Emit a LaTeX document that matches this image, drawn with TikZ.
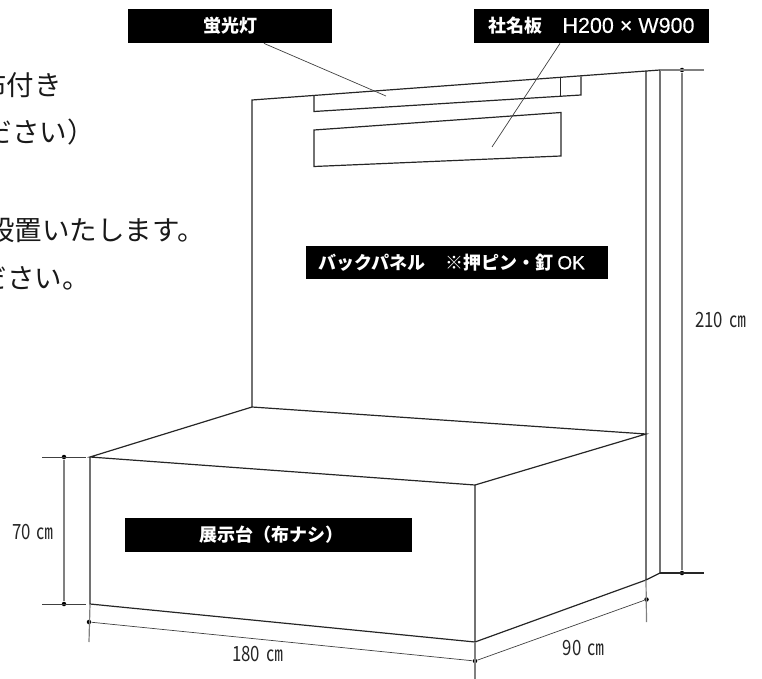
\documentclass[tikz,border=0pt]{standalone}
\usepackage{fontspec}
\setmainfont{Noto Sans CJK JP}
\newfontfamily\taglatin[FakeBold=.3]{Liberation Sans}
\newcommand{\lparen}{\symbol{"FF08}}
\newcommand{\rparen}{\symbol{"FF09}}
\usetikzlibrary{positioning}

\begin{document}
\begin{tikzpicture}[x=1pt, y=-1pt, thick,
  outline/.style = {draw=black!85, line width=1.2pt},
  dimline/.style = {draw=black!50, line width=1.2pt},
  leader/.style = {draw=black!75, line width=.7pt},
  dimdot/.style = {circle, fill=black, inner sep=0pt, minimum size=4.5pt},
  tag/.style = {fill=black, text=white, inner sep=0pt, font=\fontsize{18}{18}\selectfont\bfseries},
  dimtext/.style = {inner sep=0pt, text=black!85, font=\fontsize{21}{21}\selectfont},
  note/.style = {inner sep=0pt, anchor=base east, text=black!90, font=\fontsize{27.5}{27.5}\selectfont}]
\useasboundingbox (0,0) rectangle (762,679);
% notes, cut off by the page edge
\node[note] (note1) at (62,96) {布付き};
\node[note] (note2) at (95,143) {ださい\rparen};
\node[note] (note3) at (205,240) {設置いたします。};
\node[note] (note4) at (90,288) {ださい。};
% back panel
\coordinate (panelBL) at (252,407);
\coordinate (panelTL) at (252,100);
\coordinate (panelTR) at (660,70);
\coordinate (panelBR) at (660,573);
\coordinate (sideT) at (646,71);
\coordinate (sideB) at (646,580);
\draw[outline] (panelBL) -- (panelTL) -- (panelTR) -- (panelBR) -- (sideB) -- (sideT);
% lamp
\coordinate (lampTL) at (314,96);
\coordinate (lampBL) at (314,111.5);
\coordinate (lampBR) at (581,95);
\coordinate (lampTR) at (581,76.5);
\coordinate (lampMT) at (560.5,78);
\coordinate (lampMB) at (560.5,96.3);
\draw[outline] (lampTL) -- (lampBL) -- (lampBR) -- (lampTR);
\draw[outline] (lampMT) -- (lampMB);
% name plate
\coordinate (plateTL) at (314,130);
\coordinate (plateBL) at (314,166.5);
\coordinate (plateBR) at (561,156);
\coordinate (plateTR) at (561,112.5);
\draw[outline] (plateTL) -- (plateBL) -- (plateBR) -- (plateTR) -- cycle;
% display table
\coordinate (tableFL) at (90,457);
\coordinate (tableFR) at (475,485);
\coordinate (tableBR) at (646,434);
\coordinate (tableLL) at (90,604);
\coordinate (tableLR) at (475,642);
\draw[outline] (tableFL) -- (panelBL) -- (tableBR) -- (tableFR) -- cycle;
\draw[outline] (tableFL) -- (tableLL) -- (tableLR) -- (tableFR);
\draw[outline] (tableLR) -- (sideB);
% tags
\node[tag, minimum width=204pt, minimum height=34pt] (lamptag) at (230,26) {蛍光灯};
\node[tag, minimum width=235pt, minimum height=34pt] (platetag) at (591.5,26) {社名板\hspace{20pt}{\fontsize{21.5}{21.5}\taglatin\mdseries H200 × W900}};
\node[tag, minimum width=302pt, minimum height=33pt] (paneltag) at (457,262.5) {\hspace{-11pt}バックパネル\hspace{20pt}※押ピン・釘 {\fontsize{19}{19}\taglatin\mdseries OK}};
\node[tag, minimum width=287pt, minimum height=34pt] (tabletag) at (268.5,535) {\hspace{5pt}展示台\lparen 布ナシ\rparen};
% leaders
\coordinate (lampend) at (386,96);
\coordinate (plateend) at (492,147);
\draw[leader] (lamptag.south) ++(34,0) coordinate (lampstart) -- (lampend);
\draw[leader] (platetag.south) ++(-31.5,0) coordinate (platestart) -- (plateend);
% 210 dimension
\coordinate (h1) at (704,70);
\coordinate (h2) at (704,573);
\node[dimdot] (d1) at (682,70) {};
\node[dimdot] (d2) at (682,573) {};
\draw[dimline] (panelTR) -- (h1);
\draw[outline] (panelBR) -- (h2);
\draw[dimline] (d1) -- (d2);
\node[dimtext] (h210) at (720.5,320) {\scalebox{.8}[1]{210\hspace{3pt} ㎝}};
% 70 dimension
\coordinate (t1) at (42,457);
\coordinate (t2) at (86,457);
\coordinate (t3) at (42,604);
\coordinate (t4) at (86,604);
\node[dimdot] (d3) at (64,457) {};
\node[dimdot] (d4) at (64,604) {};
\draw[leader] (t1) -- (t2);
\draw[leader] (t3) -- (t4);
\draw[dimline] (d3) -- (d4);
\node[dimtext] (h70) at (33,532) {\scalebox{.8}[1]{70\hspace{3pt} ㎝}};
% 180 and 90 dimensions
\coordinate (e1) at (89,642);
\coordinate (e2) at (475,679);
\coordinate (e3) at (646.5,622);
\node[dimdot] (d5) at (89,622) {};
\node[dimdot] (d6) at (475,661) {};
\node[dimdot] (d7) at (646.5,599.5) {};
\draw[dimline] (tableLL) -- (e1);
\draw[dimline] (tableLR) -- (e2);
\draw[dimline] (sideB) -- (e3);
\draw[leader] (d5) -- (d6);
\draw[leader] (d6) -- (d7);
\node[dimtext] (w180) at (257.5,654) {\scalebox{.8}[1]{180\hspace{3pt} ㎝}};
\node[dimtext] (w90) at (583.5,648) {\scalebox{.8}[1]{90\hspace{3pt} ㎝}};
\end{tikzpicture}
\end{document}
